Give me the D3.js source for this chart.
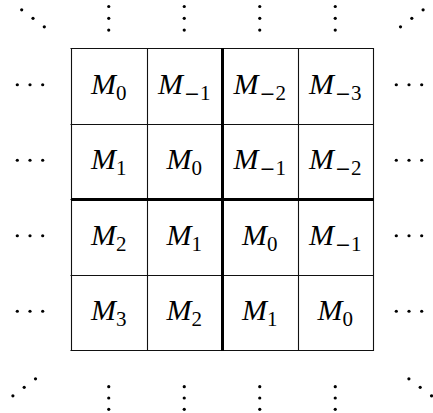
<!DOCTYPE html>
<html>
<head>
<meta charset="utf-8">
<script src="https://cdn.jsdelivr.net/npm/d3@7"></script>
<style>
  body { margin: 0; background: #fff; }
</style>
</head>
<body>
<div id="chart"></div>
<script>
// svg params
var svgWidth = 433;
var svgHeight = 413;

// visible block rows / cols
var rowIdx = [0, 1, 2, 3];
var colIdx = [0, 1, 2, 3];

// subscript k of each block M_k (Toeplitz: k = row - col)
var blockSubs = [
  [0, -1, -2, -3],
  [1, 0, -1, -2],
  [2, 1, 0, -1],
  [3, 2, 1, 0]
];

// thick partition lines after this block index
var splitAt = [2];

// the four diagonal dot groups
var corners = ["tl", "tr", "bl", "br"];

var svg = d3.select("#chart")
  .append("svg")
  .attr("width", svgWidth)
  .attr("height", svgHeight);

// block index -> pixel
var x = d3.scaleLinear().domain([0, colIdx.length]).range([71, 373]);
var y = d3.scaleLinear().domain([0, rowIdx.length]).range([48, 350]);

var gridG = svg.append("g");

// thin grid lines
var lineIdx = d3.range(rowIdx.length + 1);
gridG.selectAll("line.h")
  .data(lineIdx)
  .enter()
  .append("line")
  .attr("class", "h")
  .attr("x1", x(0) - 0.5)
  .attr("x2", x(colIdx.length) + 0.5)
  .attr("y1", d => Math.round(y(d)) + 0.5)
  .attr("y2", d => Math.round(y(d)) + 0.5)
  .attr("stroke", "#111")
  .attr("stroke-width", 1.1);

gridG.selectAll("line.v")
  .data(lineIdx)
  .enter()
  .append("line")
  .attr("class", "v")
  .attr("y1", y(0))
  .attr("y2", y(rowIdx.length) + 1)
  .attr("x1", d => Math.round(x(d)) + 0.5)
  .attr("x2", d => Math.round(x(d)) + 0.5)
  .attr("stroke", "#111")
  .attr("stroke-width", 1.1);

// thick partition lines
gridG.selectAll("line.th")
  .data(splitAt)
  .enter()
  .append("line")
  .attr("x1", x(0))
  .attr("x2", x(colIdx.length) + 1)
  .attr("y1", d => Math.round(y(d)) + 0.5)
  .attr("y2", d => Math.round(y(d)) + 0.5)
  .attr("stroke", "#000")
  .attr("stroke-width", 3);

gridG.selectAll("line.tv")
  .data(splitAt)
  .enter()
  .append("line")
  .attr("y1", y(0))
  .attr("y2", y(rowIdx.length) + 1)
  .attr("x1", d => Math.round(x(d)) + 0.5)
  .attr("x2", d => Math.round(x(d)) + 0.5)
  .attr("stroke", "#000")
  .attr("stroke-width", 3);

// block labels
var cells = [];
rowIdx.forEach(function(r) {
  colIdx.forEach(function(c) {
    cells.push({ r: r, c: c, k: blockSubs[r][c] });
  });
});

var labels = svg.append("g").selectAll("text")
  .data(cells)
  .enter()
  .append("text")
  .attr("x", d => x(d.c + 0.5))
  .attr("y", d => y(d.r + 0.5) + 8)
  .attr("text-anchor", "middle")
  .attr("font-family", "'Liberation Serif', 'Times New Roman', serif")
  .attr("fill", "#000");

labels.append("tspan")
  .attr("font-style", "italic")
  .attr("font-size", 30)
  .text("M");

// minus sign drawn with a wider glyph, like the TeX one
labels.filter(d => d.k < 0).append("tspan")
  .attr("font-family", "'DejaVu Serif', serif")
  .attr("font-size", 19)
  .attr("dy", 6)
  .attr("dx", 1)
  .text("\u2212");

labels.append("tspan")
  .attr("font-size", 21)
  .attr("dy", d => d.k < 0 ? 0 : 6)
  .text(d => String(Math.abs(d.k)));

// dots
var dotR = 1.6;
var dots = [];

// horizontal dots left and right of each row
rowIdx.forEach(function(r) {
  [-1, 0, 1].forEach(function(s) {
    dots.push({ cx: x(0) - 41 + s * 12.7, cy: y(r + 0.5) - 1 });
    dots.push({ cx: x(colIdx.length) + 36 + s * 12.7, cy: y(r + 0.5) - 1 });
  });
});

// vertical dots above and below each column
colIdx.forEach(function(c) {
  [-1, 0, 1].forEach(function(s) {
    dots.push({ cx: x(c + 0.5), cy: y(0) - 29.7 + s * 11.8 });
    dots.push({ cx: x(c + 0.5), cy: y(rowIdx.length) + 48 + s * 11.3 });
  });
});

// diagonal dots in the corners
corners.forEach(function(k) {
  var cx, cy, dir;
  if (k == "tl") { cx = x(0) - 38; cy = y(0) - 29.7; dir = 1; }
  else if (k == "tr") { cx = x(colIdx.length) + 38.8; cy = y(0) - 29.7; dir = -1; }
  else if (k == "bl") { cx = x(0) - 46.8; cy = y(rowIdx.length) + 37.3; dir = -1; }
  else { cx = x(colIdx.length) + 47.2; cy = y(rowIdx.length) + 37.3; dir = 1; }
  [-1, 0, 1].forEach(function(s) {
    dots.push({ cx: cx + s * 11.3, cy: cy + dir * s * 8.5 });
  });
});

svg.append("g").selectAll("circle")
  .data(dots)
  .enter()
  .append("circle")
  .attr("cx", d => d.cx)
  .attr("cy", d => d.cy)
  .attr("r", dotR)
  .attr("fill", "#000");
</script>
</body>
</html>
